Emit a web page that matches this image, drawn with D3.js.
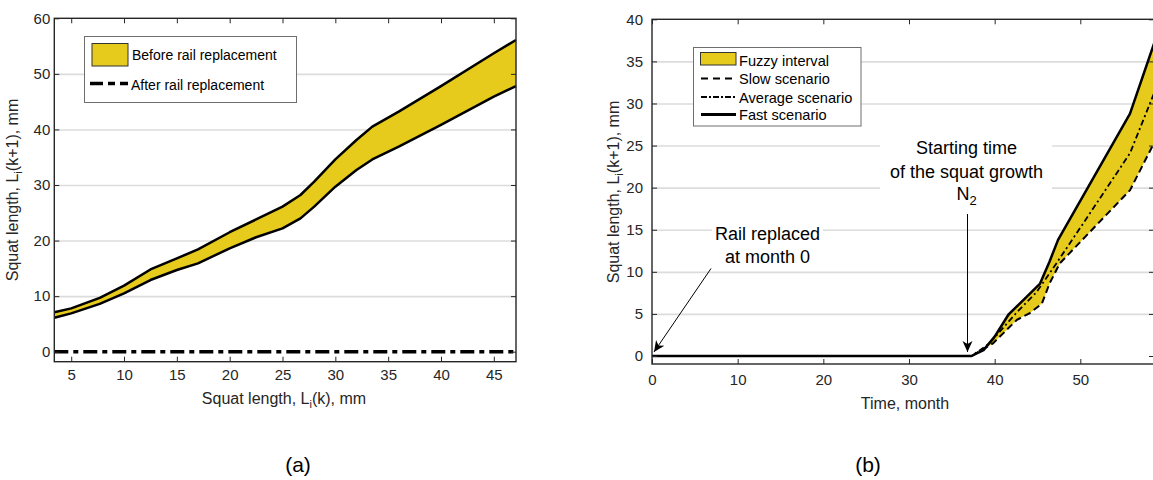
<!DOCTYPE html>
<html>
<head>
<meta charset="utf-8">
<script src="https://cdn.jsdelivr.net/npm/d3@7"></script>
<style>
  html, body { margin: 0; padding: 0; background: #fff; }
  svg { display: block; }
  text { font-family: "Liberation Sans", Arial, sans-serif; }
</style>
</head>
<body>
<svg id="chart" width="1153" height="480"></svg>
<script>
// ---------- Data ----------
// Panel (a)
const aLengthK   = [3.4, 5, 7.7, 10, 12.5, 15, 17, 20, 22.5, 25, 26.7, 28, 30, 32, 33.5, 36, 40, 45, 47.1];
const aUpper     = [7.1, 7.8, 9.7, 11.9, 14.8, 16.8, 18.4, 21.5, 23.8, 26.1, 28.2, 30.6, 34.6, 38.1, 40.5, 43.2, 47.8, 53.7, 56.1];
const aLower     = [6.1, 6.9, 8.6, 10.5, 12.9, 14.7, 15.9, 18.6, 20.6, 22.2, 24.0, 26.1, 29.7, 32.7, 34.6, 36.9, 40.8, 45.9, 47.8];
const aAfterX    = [3.4, 47.1];
const aAfterY    = [0, 0];
const aXTicks    = [5, 10, 15, 20, 25, 30, 35, 40, 45];
const aYTicks    = [0, 10, 20, 30, 40, 50, 60];
const aGrid      = [10, 20, 30, 40, 50];

// Panel (b)
const bFastMonth = [0, 37.3, 38.7, 40, 41.6, 43.7, 45.3, 46.4, 47.4, 55.8, 58.6];
const bFastVal   = [0, 0, 0.7, 2.3, 4.9, 7.0, 8.6, 11.2, 13.8, 28.8, 37.1];
const bAvgMonth  = [22, 37.3, 39.4, 40.6, 42.6, 44.9, 47.2, 50.3, 55.8, 58.6];
const bAvgVal    = [0, 0, 1.5, 2.9, 5.2, 7.6, 11.0, 15.7, 24.1, 31.2];
const bSlowMonth = [22, 37.3, 39.8, 42.6, 44.1, 45.5, 46.4, 47.6, 52.3, 55.8, 58.6];
const bSlowVal   = [0, 0, 1.5, 4.3, 5.1, 6.2, 8.6, 11.0, 16.0, 19.7, 25.3];
const bXTicks    = [0, 10, 20, 30, 40, 50];
const bYTicks    = [0, 5, 10, 15, 20, 25, 30, 35, 40];
const bGrid      = [5, 10, 15, 20, 25, 30, 35];

const YELLOW = "#E6CB1C";
const AXC = "#262626";

const svg = d3.select("#chart");
svg.append("rect").attr("width", 1153).attr("height", 480).attr("fill", "#fff");

function zip(xs, ys) { return xs.map((x, i) => ({x: x, y: ys[i]})); }

function drawAxesFrame(g, x, y, xTicks, yTicks, opts) {
  const [x0, x1] = x.range();
  const [y0, y1] = y.range(); // y0 bottom, y1 top
  g.append("g").attr("transform", `translate(0,${y0})`)
    .call(d3.axisBottom(x).tickValues(xTicks).tickSize(-5).tickSizeOuter(0).tickPadding(opts.xPad))
    .call(a => a.select(".domain").remove())
    .call(a => a.selectAll("line").attr("stroke", AXC).attr("stroke-width", 1))
    .call(a => a.selectAll("text").attr("font-size", 15).attr("fill", AXC).attr("font-family", "Liberation Sans, Arial, sans-serif"));
  g.append("g").attr("transform", `translate(0,${y1})`)
    .call(d3.axisTop(x).tickValues(xTicks).tickSize(-5).tickSizeOuter(0).tickFormat(""))
    .call(a => a.select(".domain").remove())
    .call(a => a.selectAll("line").attr("stroke", AXC).attr("stroke-width", 1));
  g.append("g").attr("transform", `translate(${x0},0)`)
    .call(d3.axisLeft(y).tickValues(yTicks).tickSize(-5).tickSizeOuter(0).tickPadding(opts.yPad))
    .call(a => a.select(".domain").remove())
    .call(a => a.selectAll("line").attr("stroke", AXC).attr("stroke-width", 1))
    .call(a => a.selectAll("text").attr("font-size", 15).attr("fill", AXC).attr("font-family", "Liberation Sans, Arial, sans-serif"));
  g.append("g").attr("transform", `translate(${x1},0)`)
    .call(d3.axisRight(y).tickValues(yTicks).tickSize(-5).tickSizeOuter(0).tickFormat(""))
    .call(a => a.select(".domain").remove())
    .call(a => a.selectAll("line").attr("stroke", AXC).attr("stroke-width", 1));
  g.append("rect").attr("x", x0).attr("y", y1).attr("width", x1 - x0).attr("height", y0 - y1)
    .attr("fill", "none").attr("stroke", AXC).attr("stroke-width", 1.4);
}

function drawGrid(g, x, y, vals) {
  const [x0, x1] = x.range();
  g.append("g").attr("transform", `translate(${x0},0)`)
    .call(d3.axisLeft(y).tickValues(vals).tickSize(-(x1 - x0)).tickFormat(""))
    .call(a => a.select(".domain").remove())
    .call(a => a.selectAll("line").attr("stroke", "#dcdcdc").attr("stroke-width", 1.6));
}

function yLabel(g, cx, cy, main, sub, rest) {
  const t = g.append("text").attr("transform", `translate(${cx},${cy}) rotate(-90)`)
    .attr("text-anchor", "middle").attr("font-size", 16).attr("fill", AXC);
  t.append("tspan").text(main);
  t.append("tspan").attr("dy", 4).attr("font-size", 11).text(sub);
  t.append("tspan").attr("dy", -4).text(rest);
}

function arrow(g, xA, yA, xB, yB) {
  g.append("line").attr("x1", xA).attr("y1", yA).attr("x2", xB).attr("y2", yB)
    .attr("stroke", "#000").attr("stroke-width", 1);
  const ang = Math.atan2(yB - yA, xB - xA);
  const L = 11, W = 5, N = 3;
  const ux = Math.cos(ang), uy = Math.sin(ang);
  const px = -uy, py = ux;
  const bx = xB - ux * L, by = yB - uy * L;
  const nx = xB - ux * (L - N), ny = yB - uy * (L - N);
  g.append("path").attr("d",
    `M${xB},${yB} L${bx + px * W},${by + py * W} L${nx},${ny} L${bx - px * W},${by - py * W} Z`)
    .attr("fill", "#000");
}

// ================= Panel (a) =================
{
  const g = svg.append("g");
  const x = d3.scaleLinear().domain([3.4, 47.1]).range([54.3, 516]);
  const y = d3.scaleLinear().domain([-1.8, 60]).range([361.7, 18.3]);
  drawGrid(g, x, y, aGrid);

  const up = zip(aLengthK, aUpper), lo = zip(aLengthK, aLower);
  const band = aLengthK.map((k, i) => ({x: k, lo: aLower[i], hi: aUpper[i]}));
  g.append("path").datum(band)
    .attr("d", d3.area().x(d => x(d.x)).y0(d => y(d.lo)).y1(d => y(d.hi)))
    .attr("fill", YELLOW);
  const line = d3.line().x(d => x(d.x)).y(d => y(d.y));
  g.append("path").datum(up).attr("d", line).attr("fill", "none").attr("stroke", "#000").attr("stroke-width", 2.5).attr("stroke-linejoin", "round");
  g.append("path").datum(lo).attr("d", line).attr("fill", "none").attr("stroke", "#000").attr("stroke-width", 2.5).attr("stroke-linejoin", "round");
  g.append("path").datum(zip(aAfterX, aAfterY)).attr("d", line).attr("fill", "none")
    .attr("stroke", "#000").attr("stroke-width", 3.5).attr("stroke-dasharray", "14,5,5,5");

  drawAxesFrame(g, x, y, aXTicks, aYTicks, {xPad: 8, yPad: 4});

  const xl = g.append("text").attr("x", 284).attr("y", 404).attr("text-anchor", "middle")
    .attr("font-size", 16).attr("fill", AXC);
  xl.append("tspan").text("Squat length, L");
  xl.append("tspan").attr("dy", 4).attr("font-size", 11).text("i");
  xl.append("tspan").attr("dy", -4).text("(k), mm");
  yLabel(g, 18, 190, "Squat length, L", "i", "(k+1), mm");

  const lg = g.append("g");
  lg.append("rect").attr("x", 84.5).attr("y", 36.5).attr("width", 212).attr("height", 66)
    .attr("fill", "#fff").attr("stroke", "#6e6e6e").attr("stroke-width", 1);
  lg.append("rect").attr("x", 92).attr("y", 43.5).attr("width", 36).attr("height", 22.5)
    .attr("fill", YELLOW).attr("stroke", "#333").attr("stroke-width", 1);
  lg.append("text").attr("x", 132).attr("y", 60).attr("font-size", 14).attr("fill", "#000").text("Before rail replacement");
  lg.append("line").attr("x1", 90).attr("x2", 128).attr("y1", 83.5).attr("y2", 83.5)
    .attr("stroke", "#000").attr("stroke-width", 3.5).attr("stroke-dasharray", "13,5,7,5");
  lg.append("text").attr("x", 131).attr("y", 90).attr("font-size", 14).attr("fill", "#000").text("After rail replacement");

  g.append("text").attr("x", 298).attr("y", 472).attr("text-anchor", "middle")
    .attr("font-family", "Lato, 'Open Sans', sans-serif").attr("font-size", 21).attr("fill", "#000").text("(a)");
}

// ================= Panel (b) =================
{
  const g = svg.append("g");
  const x = d3.scaleLinear().domain([0, 58.6]).range([652, 1154]);
  const y = d3.scaleLinear().domain([-0.95, 40]).range([364, 19.3]);
  drawGrid(g, x, y, bGrid);

  svg.append("defs").append("clipPath").attr("id", "clipB")
    .append("rect").attr("x", 652).attr("y", 19.3).attr("width", 502).attr("height", 364 - 19.3);
  const pg = g.append("g").attr("clip-path", "url(#clipB)");

  const fast = zip(bFastMonth, bFastVal);
  const avg = zip(bAvgMonth, bAvgVal);
  const slow = zip(bSlowMonth, bSlowVal);
  const line = d3.line().x(d => x(d.x)).y(d => y(d.y));

  const poly = fast.filter(d => d.x >= 37.3).concat(slow.filter(d => d.x >= 37.3).slice().reverse());
  pg.append("path").datum(poly).attr("d", d => line(d) + "Z").attr("fill", YELLOW);

  pg.append("path").datum(slow).attr("d", line).attr("fill", "none")
    .attr("stroke", "#000").attr("stroke-width", 2).attr("stroke-dasharray", "7,4");
  pg.append("path").datum(avg).attr("d", line).attr("fill", "none")
    .attr("stroke", "#000").attr("stroke-width", 1.8).attr("stroke-dasharray", "6,3,2,3");
  pg.append("path").datum(fast).attr("d", line).attr("fill", "none")
    .attr("stroke", "#000").attr("stroke-width", 2.5).attr("stroke-linejoin", "round");

  drawAxesFrame(g, x, y, bXTicks, bYTicks, {xPad: 10, yPad: 9});

  g.append("text").attr("x", 905).attr("y", 409).attr("text-anchor", "middle")
    .attr("font-size", 16).attr("fill", AXC).text("Time, month");
  yLabel(g, 618.5, 192, "Squat length, L", "i", "(k+1), mm");

  const an = g.append("g");
  an.append("rect").attr("x", 712).attr("y", 222).attr("width", 111).attr("height", 46).attr("fill", "#fff");
  an.append("text").attr("x", 767.5).attr("y", 240).attr("text-anchor", "middle").attr("font-size", 18).attr("fill", "#000").text("Rail replaced");
  an.append("text").attr("x", 767.5).attr("y", 263).attr("text-anchor", "middle").attr("font-size", 18).attr("fill", "#000").text("at month 0");
  arrow(an, 711, 268.5, x(0) + 2, y(0) - 4);

  an.append("rect").attr("x", 880).attr("y", 132).attr("width", 172).attr("height", 78).attr("fill", "#fff");
  an.append("text").attr("x", 966.5).attr("y", 154).attr("text-anchor", "middle").attr("font-size", 18).attr("fill", "#000").text("Starting time");
  an.append("text").attr("x", 966.5).attr("y", 177.5).attr("text-anchor", "middle").attr("font-size", 18).attr("fill", "#000").text("of the squat growth");
  const n2 = an.append("text").attr("x", 966.5).attr("y", 200).attr("text-anchor", "middle").attr("font-size", 18).attr("fill", "#000");
  n2.append("tspan").text("N");
  n2.append("tspan").attr("dy", 5).attr("font-size", 13).text("2");
  arrow(an, 967.5, 214, 967.5, y(0) - 4);

  const lg = g.append("g");
  lg.append("rect").attr("x", 693.5).attr("y", 47.5).attr("width", 167.5).attr("height", 78.5)
    .attr("fill", "#fff").attr("stroke", "#6e6e6e").attr("stroke-width", 1);
  lg.append("rect").attr("x", 700.5).attr("y", 52.5).attr("width", 35.5).attr("height", 12.5)
    .attr("fill", YELLOW).attr("stroke", "#333").attr("stroke-width", 1);
  const items = [
    {t: "Fuzzy interval", y: 65.5},
    {t: "Slow scenario", y: 84, dash: "7,5", w: 2},
    {t: "Average scenario", y: 102.5, dash: "6,2,2,2", w: 2},
    {t: "Fast scenario", y: 120, dash: null, w: 3}
  ];
  items.forEach((it, i) => {
    if (i > 0) {
      lg.append("line").attr("x1", 701).attr("x2", 736).attr("y1", it.y - 5.5).attr("y2", it.y - 5.5)
        .attr("stroke", "#000").attr("stroke-width", it.w).attr("stroke-dasharray", it.dash);
    }
    lg.append("text").attr("x", 739).attr("y", it.y).attr("font-size", 14.6).attr("fill", "#000").text(it.t);
  });

  g.append("text").attr("x", 868).attr("y", 472).attr("text-anchor", "middle")
    .attr("font-family", "Lato, 'Open Sans', sans-serif").attr("font-size", 21).attr("fill", "#000").text("(b)");
}
</script>
</body>
</html>
